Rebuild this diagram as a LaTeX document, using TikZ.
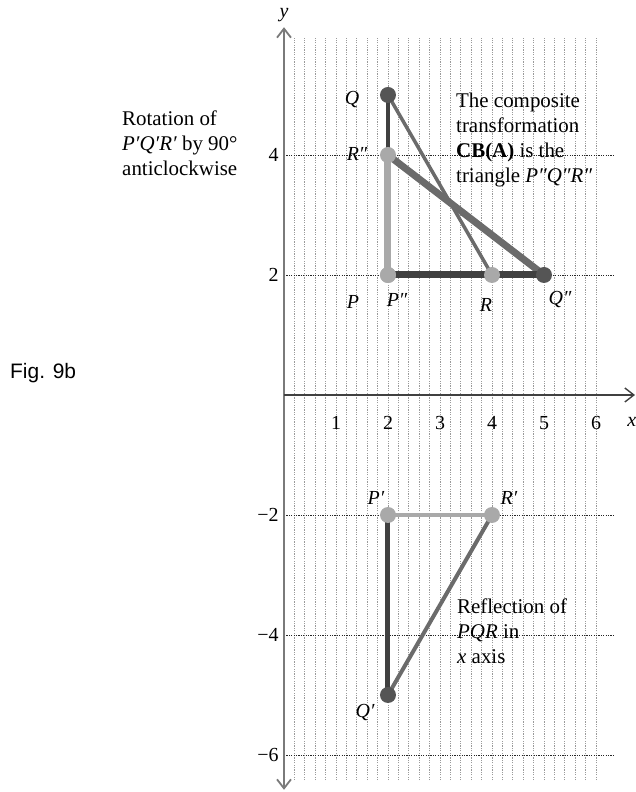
\documentclass[tikz,border=0pt]{standalone}
\usepackage{fontspec}
\setmainfont{Liberation Serif}
\newfontfamily\figfont{Liberation Sans}
\usetikzlibrary{arrows.meta}
\definecolor{darkline}{HTML}{404040}
\definecolor{midline}{HTML}{6B6B6B}
\definecolor{lightline}{HTML}{A9A9A9}
\definecolor{darkdot}{HTML}{555555}
\definecolor{gridgray}{HTML}{9A9A9A}
\definecolor{axisgray}{HTML}{7A7A7A}
\begin{document}
\begin{tikzpicture}[x=52bp, y=60bp,
  txt/.style={font=\fontsize{21}{25}\selectfont, inner sep=0pt, align=left, anchor=north west},
  tick/.style={font=\fontsize{20}{24}\selectfont, inner sep=0pt},
  lbl/.style={font=\fontsize{20}{24}\selectfont\itshape, inner sep=0pt},
  vgrid/.style={gridgray, line width=0.8bp, dash pattern=on 1.2bp off 1.2bp},
  hgrid/.style={black!85, line width=0.8bp, dash pattern=on 1.2bp off 1.2bp},
  axis/.style={axisgray, line width=1.8bp},
  barb/.tip={Straight Barb[length=9bp, width=14bp]},
  side/.style={line width=4bp},
  bigside/.style={line width=7bp},
  vdot/.style={circle, inner sep=0pt, minimum size=16bp}
]
\useasboundingbox (-5.4615,-6.6167) rectangle (6.7692,6.5833);
\foreach \i in {1,...,30}
  \draw[vgrid] (\i*0.2,-6.42) -- (\i*0.2,5.95);
\foreach \j in {4,2,-2,-4,-6}
  \draw[hgrid] (0,\j) -- (6.33,\j);
\coordinate (O) at (0,0);
\coordinate (ytop) at (0,6.13);
\coordinate (ybot) at (0,-6.58);
\coordinate (xend) at (6.75,0);
\draw[axis, barb-barb] (ybot) -- (ytop);
\draw[darkline, line width=1.4bp, -barb] (O) -- (xend);
\node[lbl] (ylab) at (0,6.33) {y};
\node[lbl] (xlab) at (6.69,-0.45) {x};
\foreach \k in {1,...,6}
  \node[tick] (xt\k) at (\k,-0.467) {\k};
\node[tick, anchor=east] (yt4) at (-0.1,4) {4};
\node[tick, anchor=east] (yt2) at (-0.1,2) {2};
\node[tick, anchor=east] (ytm2) at (-0.1,-2) {−2};
\node[tick, anchor=east] (ytm4) at (-0.1,-4) {−4};
\node[tick, anchor=east] (ytm6) at (-0.1,-6) {−6};
\coordinate (P) at (2,2);
\coordinate (Q) at (2,5);
\coordinate (R) at (4,2);
\coordinate (P1) at (2,-2);
\coordinate (Q1) at (2,-5);
\coordinate (R1) at (4,-2);
\coordinate (P2) at (2,2);
\coordinate (Q2) at (5,2);
\coordinate (R2) at (2,4);
\draw[side, darkline] (P) -- (Q);
\draw[side, lightline] (P) -- (R);
\draw[line width=3.5bp, midline] (Q) -- (R);
\draw[bigside, lightline] (P2) -- (R2);
\draw[bigside, midline] (R2) -- (Q2);
\draw[bigside, darkline] (P2) -- (Q2);
\draw[line width=5bp, darkline] (P1) -- (Q1);
\draw[side, lightline] (P1) -- (R1);
\draw[side, midline] (Q1) -- (R1);
\node[vdot, fill=darkdot] (dQ) at (Q) {};
\node[vdot, fill=lightline] (dR) at (R) {};
\node[vdot, fill=lightline] (dP) at (P) {};
\node[vdot, fill=lightline] (dP2) at (P2) {};
\node[vdot, fill=darkdot] (dQ2) at (Q2) {};
\node[vdot, fill=lightline] (dR2) at (R2) {};
\node[vdot, fill=lightline] (dP1) at (P1) {};
\node[vdot, fill=lightline] (dR1) at (R1) {};
\node[vdot, fill=darkdot] (dQ1) at (Q1) {};
\node[lbl] (lQ) at (1.308,4.917) {Q};
\node[lbl] (lR2) at (1.404,4.017) {R″};
\node[lbl] (lP) at (1.327,1.55) {P};
\node[lbl] (lP2) at (2.173,1.583) {P″};
\node[lbl] (lR) at (3.885,1.5) {R};
\node[lbl] (lQ2) at (5.308,1.583) {Q″};
\node[lbl] (lP1) at (1.769,-1.717) {P′};
\node[lbl] (lR1) at (4.327,-1.717) {R′};
\node[lbl] (lQ1) at (1.558,-5.3) {Q′};
\node[txt] (rot) at (-3.115,4.738) {Rotation of\\\textit{P′Q′R′} by 90°\\anticlockwise};
\node[txt] (comp) at (3.308,5.038) {The composite\\transformation\\\textbf{CB(A)} is the\\triangle \textit{P″Q″R″}};
\node[txt] (refl) at (3.327,-3.395) {Reflection of\\\textit{PQR} in\\\textit{x} axis};
\node[inner sep=0pt, anchor=west, font=\figfont\fontsize{21}{25}\selectfont] (fig) at (-5.269,0.367) {Fig. 9b};
\end{tikzpicture}
\end{document}
